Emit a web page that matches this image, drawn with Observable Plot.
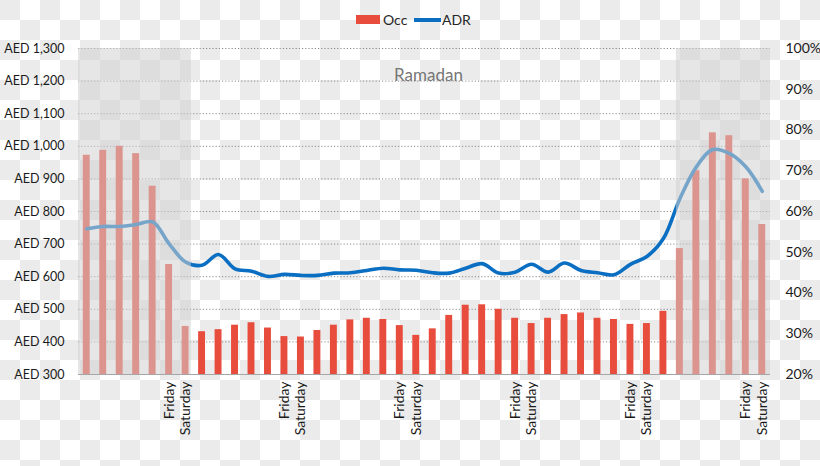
<!DOCTYPE html>
<html>
<head>
<meta charset="utf-8">
<script src="https://cdn.jsdelivr.net/npm/d3@7"></script>
<script src="https://cdn.jsdelivr.net/npm/@observablehq/plot@0.6"></script>
<style>
html, body { margin: 0; padding: 0; }
body {
  width: 820px; height: 466px; overflow: hidden;
  font-family: Lato, sans-serif;
  background-color: #fff;
  background-image: conic-gradient(#fff 0 25%, #ebebeb 0 50%, #fff 0 75%, #ebebeb 0);
  background-size: 40px 40px;
}
#legend { position: relative; height: 30px; font-size: 14px; color: #262626; }
#legend .sw { position: absolute; }
#legend .lb { position: absolute; top: 11px; line-height: 18px; }
#chart svg { display: block; }
</style>
</head>
<body>
<div id="legend">
  <div class="sw" style="left:356px; top:15px; width:24px; height:9px; background:#e74c3c;"></div>
  <div class="lb" style="left:383px;">Occ</div>
  <div class="sw" style="left:414px; top:18px; width:27px; height:3.5px; background:#0a6fc2;"></div>
  <div class="lb" style="left:442px;">ADR</div>
</div>
<div id="chart"></div>
<script>
// ---- data ----
const weekdays = ["Sunday", "Monday", "Tuesday", "Wednesday", "Thursday", "Friday", "Saturday"];
const labelledDays = ["Friday", "Saturday"];
// Occupancy (%) per day, 6 weeks
const occ = [
  73.8, 75.0, 76.0, 74.2, 66.2, 47.0, 31.8,
  30.5, 31.0, 32.1, 32.7, 31.4, 29.3, 29.2,
  30.8, 32.1, 33.4, 33.8, 33.5, 32.0, 29.6,
  31.2, 34.5, 37.0, 37.1, 36.0, 33.8, 32.5,
  33.8, 34.7, 35.1, 33.8, 33.5, 32.3, 32.5,
  35.5, 50.9, 70.0, 79.3, 78.6, 68.0, 56.8
];
// ADR (AED) per day
const adr = [
  747, 754, 754, 760, 768, 701, 645,
  635, 668, 624, 617, 601, 607, 604,
  604, 611, 612, 619, 626, 621, 620,
  612, 611, 626, 640, 611, 614, 638,
  614, 642, 619, 612, 606, 638, 662,
  717, 839, 937, 990, 978, 937, 862
];
const aedTicks = [300, 400, 500, 600, 700, 800, 900, 1000, 1100, 1200, 1300];
const pctTicks = [20, 30, 40, 50, 60, 70, 80, 90, 100];
// shaded (non-Ramadan) periods, in day-index units
const shaded = [
  {x1: -0.5, x2: 6.35},
  {x1: 35.79, x2: 41.5}
];
const annotation = ["Ramadan"];

// occupancy axis is mapped onto the AED axis: 20% -> 300, 100% -> 1300
const pctToAed = p => 300 + (p - 20) * 12.5;

const data = occ.map((o, i) => ({
  i, occAed: pctToAed(o), adr: adr[i], day: weekdays[i % 7]
}));
const labelIdx = data.filter(d => labelledDays.includes(d.day)).map(d => d.i);

const chart = Plot.plot({
  width: 820,
  height: 436,
  marginTop: 18,
  marginBottom: 92,
  marginLeft: 78,
  marginRight: 50,
  style: {background: "transparent", fontFamily: "Lato, sans-serif", fontSize: "14px", color: "#1a1a1a"},
  x: {type: "linear", domain: [-0.5, 41.5], axis: null},
  y: {domain: [300, 1300], axis: null},
  marks: [
    Plot.gridY(aedTicks.slice(1), {stroke: "#8a8a8a", strokeOpacity: 1, strokeDasharray: "1.2,2"}),
    Plot.rect(data, {x1: d => d.i - 0.21, x2: d => d.i + 0.21, y1: 300, y2: "occAed", fill: "#e74c3c"}),
    Plot.line(data, {x: "i", y: "adr", curve: "catmull-rom", stroke: "#0a6fc2", strokeWidth: 3.6, strokeLinecap: "round"}),
    Plot.rect(shaded, {x1: "x1", x2: "x2", y1: 300, y2: 1300, fill: "#d2d2d2", fillOpacity: 0.55}),
    Plot.ruleY([300], {stroke: "#a6a6a6"}),
    Plot.axisY({anchor: "left", ticks: aedTicks, tickFormat: d => "AED " + d3.format(",")(d), tickSize: 0, tickPadding: 14, fontSize: 12.5}),
    Plot.axisY({anchor: "right", ticks: pctTicks.map(pctToAed), tickFormat: d => Math.round((d - 300) / 12.5 + 20) + "%", tickSize: 0, tickPadding: 15}),
    Plot.axisX({ticks: labelIdx, tickFormat: i => weekdays[i % 7], tickRotate: -90, tickSize: 0, tickPadding: 7}),
    Plot.text(annotation, {frameAnchor: "top", dx: 4, dy: 20, fill: "#767676", fontSize: 17})
  ]
});
document.getElementById("chart").appendChild(chart);
</script>
</body>
</html>
